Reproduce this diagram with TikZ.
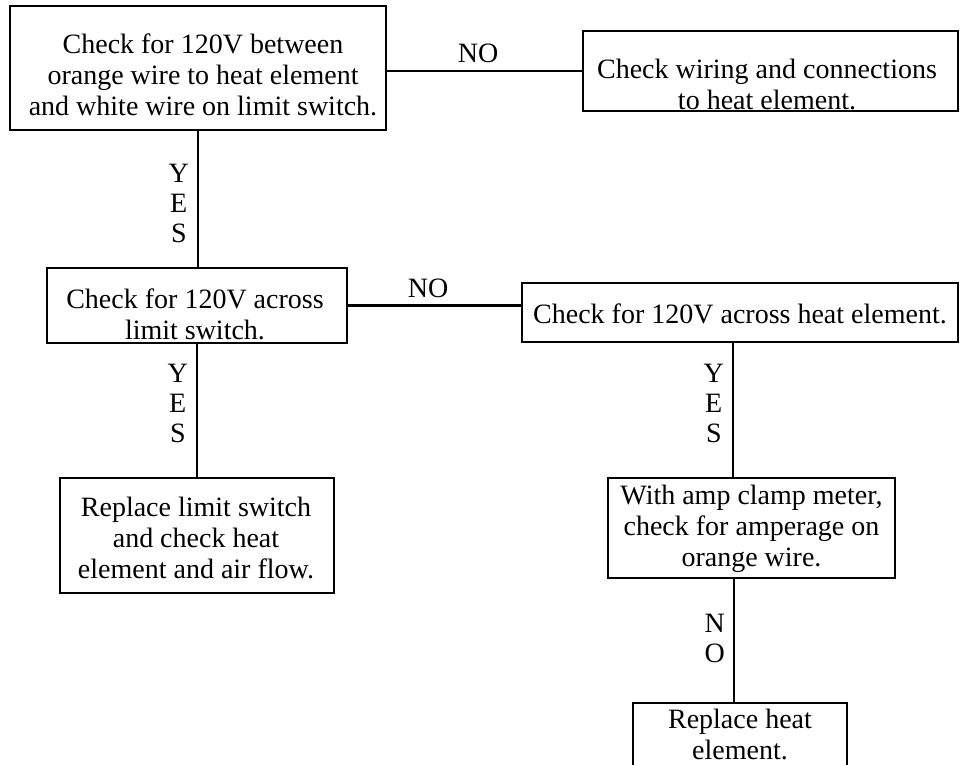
\documentclass[tikz,border=0pt]{standalone}
\usepackage{fontspec}
\setmainfont{Liberation Serif}
\usetikzlibrary{positioning}

\begin{document}
\begin{tikzpicture}[x=0.5pt,y=-0.5pt,
    font=\fontsize{14}{15.5}\selectfont,
    box/.style={rectangle,draw,line width=0.8pt,inner sep=0pt},
    txt/.style={align=center,inner sep=0pt},
    link/.style={line width=1.1pt},
    yn/.style={align=center,inner sep=0pt,font=\fontsize{14}{15}\selectfont}]

    \clip (0,0) rectangle (960,765);

    % boxes
    \node[box,minimum width=188pt,minimum height=62pt] (check) at (198,68) {};
    \node[box,minimum width=187.5pt,minimum height=40pt] (wiring) at (770.5,71) {};
    \node[box,minimum width=150pt,minimum height=37.5pt] (across) at (197,305.5) {};
    \node[box,minimum width=218pt,minimum height=29.5pt] (heatel) at (740,312.5) {};
    \node[box,minimum width=137pt,minimum height=57.5pt] (limit) at (197,535.5) {};
    \node[box,minimum width=143.5pt,minimum height=50pt] (amp) at (751.5,528) {};
    \node[box,minimum width=107pt,minimum height=41pt] (replace) at (740,744) {};

    % texts
    \node[txt] (checktxt) at (203,75) {Check for 120V between\\orange wire to heat element\\and white wire on limit switch.};
    \node[txt] (wiringtxt) at (767,84) {Check wiring and connections\\to heat element.};
    \node[txt] (acrosstxt) at (195,314) {Check for 120V across\\limit switch.};
    \node[txt] (heateltxt) at (740,314) {Check for 120V across heat element.};
    \node[txt] (limittxt) at (196,538) {Replace limit switch\\and check heat\\element and air flow.};
    \node[txt] (amptxt) at (751.5,529) {With amp clamp meter,\\check for amperage on\\orange wire.};
    \node[txt] (replacetxt) at (740,734) {Replace heat\\element.};

    % connectors
    \draw[link] (check.east |- wiring.west) -- node[pos=0.467,above] {NO} (wiring.west);
    \draw[link] (check.south) -- node[pos=0.536,left=4pt,yn] {Y\\E\\S} (check.south |- across.north);
    \draw[link] (across.east) -- node[pos=0.463,above] {NO} (across.east -| heatel.west);
    \draw[link] (across.south) -- node[pos=0.444,left=4pt,yn] {Y\\E\\S} (across.south |- limit.north);
    \draw[link] ([xshift=-3.5pt]heatel.south) -- node[pos=0.449,left=4pt,yn] {Y\\E\\S} ([xshift=-3.5pt]heatel.south |- amp.north);
    \draw[link] ([xshift=-3pt]replace.north |- amp.south) -- node[pos=0.48,left=4pt,yn] {N\\O} ([xshift=-3pt]replace.north);
\end{tikzpicture}
\end{document}
